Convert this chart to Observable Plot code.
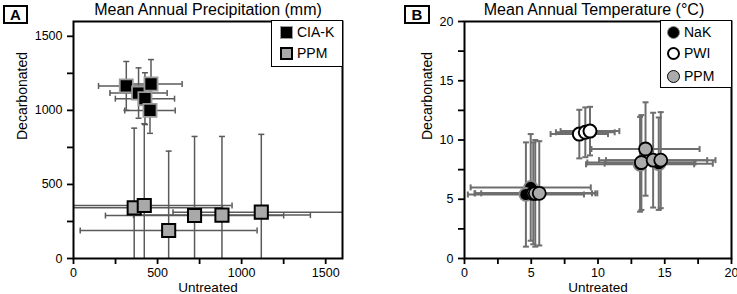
<!DOCTYPE html>
<html><head><meta charset="utf-8">
<script src="https://cdn.jsdelivr.net/npm/d3@7"></script>
<script src="https://cdn.jsdelivr.net/npm/@observablehq/plot@0.6"></script>
<style>
body{margin:0;background:#fff;font-family:"Liberation Sans",Arial,sans-serif;color:#000;}
#wrap{position:relative;width:737px;height:294px;overflow:hidden;background:#fff;}
.panel{position:absolute;top:0;}
.panel g[aria-label$="tick"] path{stroke-width:1.8px;}
.title{position:absolute;font-size:16px;white-space:nowrap;transform:translateX(-50%);top:1px;}
.plabel{position:absolute;border:2px solid #000;font-weight:bold;font-size:15px;text-align:center;box-sizing:border-box;line-height:15px;}
.legend{position:absolute;border:1.5px solid #000;background:#fff;box-sizing:border-box;}
.item{position:absolute;font-size:14px;display:flex;align-items:center;height:16px;white-space:nowrap;}
.sym{display:inline-block;box-sizing:border-box;margin-right:4px;}
</style></head><body><div id="wrap"></div>
<script>
// ---------- Panel A: Mean Annual Precipitation (mm) ----------
const ciakX    = [314, 387, 461, 425, 455];
const ciakY    = [1165, 1117, 1178, 1079, 1000];
const ciakXErr = [165, 170, 185, 176, 150];
const ciakYErr = [165, 170, 165, 175, 155];

const ppmAX    = [361, 421, 566, 720, 883, 1117];
const ppmAY    = [342, 358, 189, 290, 293, 313];
const ppmAXErr = [525, 522, 526, 530, 526, 525];
const ppmAYErr = [538, 552, 536, 534, 531, 525];

const ticksA = [0, 250, 500, 750, 1000, 1250, 1500];
const labelsA = [0, 500, 1000, 1500];

// ---------- Panel B: Mean Annual Temperature (°C) ----------
const nakX    = [4.96, 4.6, 13.15, 14.55];
const nakY    = [6.0, 5.4, 7.95, 8.0];
const nakXErr = [4.5, 4.35, 4.05, 4.05];
const nakYErr = [4.5, 4.4, 4.0, 3.9];

const pwiX    = [5.15, 8.6, 9.05, 9.4];
const pwiY    = [5.5, 10.5, 10.65, 10.75];
const pwiXErr = [4.4, 2.15, 2.2, 2.2];
const pwiYErr = [4.3, 2.05, 2.1, 2.05];

const ppmBX    = [5.3, 5.6, 13.25, 13.56, 14.13, 14.7];
const ppmBY    = [5.5, 5.5, 8.1, 9.24, 8.3, 8.3];
const ppmBXErr = [4.5, 4.35, 4.05, 4.05, 4.05, 4.1];
const ppmBYErr = [4.5, 4.4, 4.0, 3.94, 4.0, 4.05];

const ticksB = [0, 2.5, 5, 7.5, 10, 12.5, 15, 17.5, 20];
const labelsB = [0, 5, 10, 15, 20];

// ---------- helpers ----------
const capV = {draw(ctx, size){const h = Math.sqrt(size/Math.PI); ctx.moveTo(0,-h); ctx.lineTo(0,h);}};
const capH = {draw(ctx, size){const w = Math.sqrt(size/Math.PI); ctx.moveTo(-w,0); ctx.lineTo(w,0);}};

function rows(xs, ys, xe, ye){ return xs.map((x,i)=>({x, y: ys[i], xe: xe[i], ye: ye[i]})); }

function errMarks(data, lo, hi, color, sw, capR){
  const clampv = v => Math.max(lo, Math.min(hi, v));
  const h = data.map(d=>({y:d.y, x1:clampv(d.x-d.xe), x2:clampv(d.x+d.xe)}));
  const v = data.map(d=>({x:d.x, y1:clampv(d.y-d.ye), y2:clampv(d.y+d.ye)}));
  const capsX = [];
  const capsY = [];
  data.forEach(d=>{
    [d.x-d.xe, d.x+d.xe].forEach(x=>{ if (x>=lo && x<=hi) capsX.push({x, y:d.y}); });
    [d.y-d.ye, d.y+d.ye].forEach(y=>{ if (y>=lo && y<=hi) capsY.push({x:d.x, y}); });
  });
  return [
    Plot.ruleY(h, {y:"y", x1:"x1", x2:"x2", stroke:color, strokeWidth:sw}),
    Plot.ruleX(v, {x:"x", y1:"y1", y2:"y2", stroke:color, strokeWidth:sw}),
    Plot.dot(capsX, {x:"x", y:"y", symbol:capV, r:capR, fill:"none", stroke:color, strokeWidth:sw}),
    Plot.dot(capsY, {x:"x", y:"y", symbol:capH, r:capR, fill:"none", stroke:color, strokeWidth:sw})
  ];
}

const font = "'Liberation Sans', Arial, sans-serif";

const ciak = rows(ciakX, ciakY, ciakXErr, ciakYErr);
const ppmA = rows(ppmAX, ppmAY, ppmAXErr, ppmAYErr);

const plotA = Plot.plot({
  width: 368, height: 294,
  marginLeft: 73, marginRight: 26, marginTop: 21, marginBottom: 36,
  style: {fontFamily: font, fontSize: "12.5px", color: "#000", background: "transparent", overflow: "visible"},
  x: {domain: [0, 1600], ticks: ticksA, tickPadding: 4, tickFormat: d => labelsA.includes(d) ? String(d) : "", label: null},
  y: {domain: [0, 1600], ticks: ticksA, tickPadding: 5, tickFormat: d => labelsA.includes(d) ? String(d) : "", label: null},
  marks: [
    ...errMarks(ppmA, 0, 1600, "#5a5a5a", 1.5, 3),
    Plot.dot(ppmA, {x:"x", y:"y", symbol:"square", r:7.4, fill:"#a9a9a9", stroke:"#000", strokeWidth:2}),
    ...errMarks(ciak, 0, 1600, "#5a5a5a", 1.5, 3),
    Plot.dot(ciak, {x:"x", y:"y", symbol:"square", r:7.4, fill:"#000", stroke:"#9a9a9a", strokeWidth:1.8}),
    Plot.frame({stroke:"#000", strokeWidth:2}),
    Plot.text(["Untreated"], {text: d=>d, frameAnchor:"bottom", lineAnchor:"middle", dy:29.5, fontSize:13.5}),
    Plot.text(["Decarbonated"], {text: d=>d, frameAnchor:"left", dx:-51, rotate:-90, fontSize:14})
  ]
});

const nak = rows(nakX, nakY, nakXErr, nakYErr);
const pwi = rows(pwiX, pwiY, pwiXErr, pwiYErr);
const ppmB = rows(ppmBX, ppmBY, ppmBXErr, ppmBYErr);

const plotB = Plot.plot({
  width: 369, height: 294,
  marginLeft: 96, marginRight: 6, marginTop: 21, marginBottom: 36,
  style: {fontFamily: font, fontSize: "12.5px", color: "#000", background: "transparent", overflow: "visible"},
  x: {domain: [0, 20], ticks: ticksB, tickPadding: 4, tickFormat: d => labelsB.includes(d) ? String(d) : "", label: null},
  y: {domain: [0, 20], ticks: ticksB, tickPadding: 5, tickFormat: d => labelsB.includes(d) ? String(d) : "", label: null},
  marks: [
    ...errMarks(nak, 0, 20, "#6e6e6e", 2, 3),
    ...errMarks(pwi, 0, 20, "#6e6e6e", 2, 3),
    ...errMarks(ppmB, 0, 20, "#6e6e6e", 2, 3),
    Plot.dot(nak, {x:"x", y:"y", r:6.5, fill:"#000", stroke:"#8a8a8a", strokeWidth:1.8}),
    Plot.dot(pwi, {x:"x", y:"y", r:6.5, fill:"#fff", stroke:"#000", strokeWidth:2}),
    Plot.dot(ppmB, {x:"x", y:"y", r:6.5, fill:"#ababab", stroke:"#000", strokeWidth:1.8}),
    Plot.frame({stroke:"#000", strokeWidth:2}),
    Plot.text(["Untreated"], {text: d=>d, frameAnchor:"bottom", lineAnchor:"middle", dy:29.5, fontSize:13.5}),
    Plot.text(["Decarbonated"], {text: d=>d, frameAnchor:"left", dx:-37, rotate:-90, fontSize:14})
  ]
});

const wrap = document.getElementById("wrap");
plotA.classList.add("panel"); plotA.style.left = "0px";
plotB.classList.add("panel"); plotB.style.left = "368px";
wrap.appendChild(plotA);
wrap.appendChild(plotB);

function addDiv(cls, css, html){
  const d = document.createElement("div");
  d.className = cls; Object.assign(d.style, css); d.innerHTML = html || "";
  wrap.appendChild(d); return d;
}
// titles and panel labels
addDiv("title", {left:"208px"}, "Mean Annual Precipitation (mm)");
addDiv("title", {left:"594px"}, "Mean Annual Temperature (°C)");
addDiv("plabel", {left:"3px", top:"5px", width:"25px", height:"19px"}, "A");
addDiv("plabel", {left:"404px", top:"5px", width:"26px", height:"19px"}, "B");

// legend A
addDiv("legend", {left:"271px", top:"20px", width:"72px", height:"47px"});
addDiv("item", {left:"280px", top:"24px"}, '<span class="sym" style="width:13px;height:13px;background:#000;border:1.8px solid #9a9a9a"></span>CIA-K');
addDiv("item", {left:"280px", top:"45px"}, '<span class="sym" style="width:13px;height:13px;background:#a9a9a9;border:2px solid #000"></span>PPM');

// legend B
addDiv("legend", {left:"660px", top:"20px", width:"72px", height:"68px"});
addDiv("item", {left:"667px", top:"24px"}, '<span class="sym" style="width:13px;height:13px;border-radius:50%;background:#000;border:1.8px solid #8a8a8a"></span>NaK');
addDiv("item", {left:"667px", top:"45px"}, '<span class="sym" style="width:13px;height:13px;border-radius:50%;background:#fff;border:2px solid #000"></span>PWI');
addDiv("item", {left:"667px", top:"68px"}, '<span class="sym" style="width:13px;height:13px;border-radius:50%;background:#ababab;border:1.8px solid #000"></span>PPM');
</script></body></html>
